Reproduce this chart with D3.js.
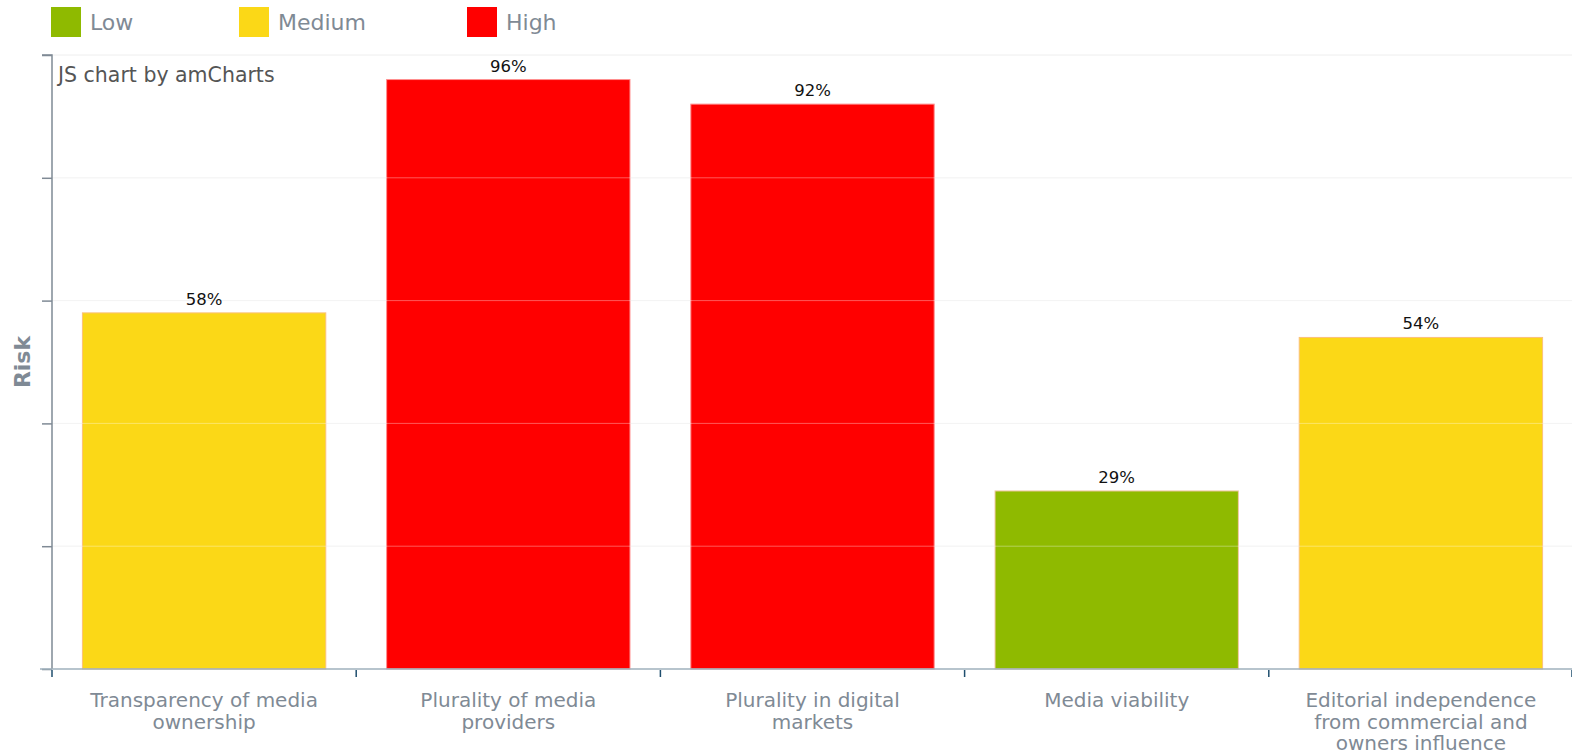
<!DOCTYPE html>
<html><head><meta charset="utf-8">
<script src="https://cdn.jsdelivr.net/npm/d3@7"></script>
<style>
html,body{margin:0;padding:0;background:#fff;overflow:hidden;}
svg{display:block;font-family:Verdana,"DejaVu Sans",sans-serif;}
</style></head>
<body>
<svg id="chart" width="1572" height="754"></svg>
<script>
const categories = ["Transparency of media ownership","Plurality of media providers","Plurality in digital markets","Media viability","Editorial independence from commercial and owners influence"];
const values = [58, 96, 92, 29, 54];
const levels = ["Medium","High","High","Low","Medium"];
const legendLabels = ["Low","Medium","High"];
const legendColors = ["#8fba00","#fbd817","#ff0000"];
const yTicks = [0,20,40,60,80,100];

const W = 1572, H = 754;
const m = {left:52, right:-1, top:55, bottom:85};
const svg = d3.select("#chart");
const color = d3.scaleOrdinal().domain(legendLabels).range(legendColors);
const strokeColor = d3.scaleOrdinal().domain(legendLabels).range(["#f3c9a8","#fbc07a","#ff8f8f"]);

const x = d3.scaleBand().domain(categories).range([m.left, W - m.right]).paddingInner(0.2).paddingOuter(0.1);
const xb = d3.scaleBand().domain(categories).range([m.left, W - m.right]);
const y = d3.scaleLinear().domain([0,100]).range([H - m.bottom, m.top]);

// grid
svg.append("g").selectAll("line").data(yTicks.slice(1)).join("line")
  .attr("x1", m.left).attr("x2", W).attr("y1", d=>y(d)).attr("y2", d=>y(d))
  .attr("stroke","#eeeeee").attr("stroke-width",1);

// bars
svg.append("g").selectAll("rect").data(categories).join("rect")
  .attr("x", d=>x(d)).attr("width", x.bandwidth())
  .attr("y", (d,i)=>y(values[i])).attr("height", (d,i)=>y(0)-y(values[i]))
  .attr("fill",(d,i)=>color(levels[i]))
  .attr("stroke",(d,i)=>strokeColor(levels[i])).attr("stroke-width",1);

// grid lines over bars (lighter, shows through)
svg.append("g").selectAll("line").data(yTicks.slice(1,5)).join("line")
  .attr("x1", m.left).attr("x2", W).attr("y1", d=>y(d)).attr("y2", d=>y(d))
  .attr("stroke","#ffffff").attr("stroke-opacity",0.35).attr("stroke-width",1);

// value labels
svg.append("g").selectAll("text").data(categories).join("text")
  .attr("x", d=>x(d)+x.bandwidth()/2).attr("y",(d,i)=>y(values[i])-8)
  .attr("text-anchor","middle").attr("font-size",16.5).attr("fill","#111")
  .text((d,i)=>values[i]+"%");

// y axis
const yAxis = d3.axisLeft(y).tickValues(yTicks).tickSize(10).tickFormat("");
const gy = svg.append("g").attr("transform",`translate(${m.left},0)`).call(yAxis);
gy.select(".domain").attr("stroke","#7f8a95").attr("stroke-width",1.5).attr("d",`M-10,${y(100)}H0V${y(0)}`);
gy.selectAll(".tick line").attr("stroke","#7f8a95").attr("stroke-width",1.5);

// x axis
const ticksX = categories.map(c=>xb(c)).concat([W]);
svg.append("line").attr("x1",40).attr("x2",W).attr("y1",y(0)).attr("y2",y(0))
  .attr("stroke","#9fb0bd").attr("stroke-width",1.5);
svg.append("g").selectAll("line").data(ticksX).join("line")
  .attr("x1",d=>d).attr("x2",d=>d).attr("y1",y(0)+1).attr("y2",y(0)+8)
  .attr("stroke","#1f4e6e").attr("stroke-width",1.5);

// x labels with wrap
const lbl = svg.append("g").selectAll("text").data(categories).join("text")
  .attr("x", d=>xb(d)+xb.bandwidth()/2).attr("y", 707)
  .attr("text-anchor","middle").attr("font-size",20).attr("fill","#7f8a95");
lbl.each(function(d){
  const t = d3.select(this); const words = d.split(" "); let line = [];
  let ts = t.append("tspan").attr("x", t.attr("x")).attr("dy",0);
  words.forEach(w=>{
    line.push(w); ts.text(line.join(" "));
    if (ts.node().getComputedTextLength() > 250 && line.length>1){
      line.pop(); ts.text(line.join(" ")); line=[w];
      ts = t.append("tspan").attr("x", t.attr("x")).attr("dy",21.5).text(w);
    }
  });
});

// y title
svg.append("text").attr("transform",`translate(30,${(y(0)+y(100))/2}) rotate(-90)`)
  .attr("text-anchor","middle").attr("font-size",22).attr("font-weight","bold").attr("fill","#7f8a95").text("Risk");

// credit
svg.append("text").attr("x",58).attr("y",82).attr("font-size",20.5).attr("fill","#555").text("JS chart by amCharts");

// legend
const legX = [51, 239, 467];
const lg = svg.append("g").selectAll("g").data(legendLabels).join("g")
  .attr("transform",(d,i)=>`translate(${legX[i]},7)`);
lg.append("rect").attr("width",30).attr("height",30).attr("fill",d=>color(d));
lg.append("text").attr("x",39).attr("y",23).attr("font-size",22).attr("fill","#7f8a95").text(d=>d);
</script>
</body></html>
